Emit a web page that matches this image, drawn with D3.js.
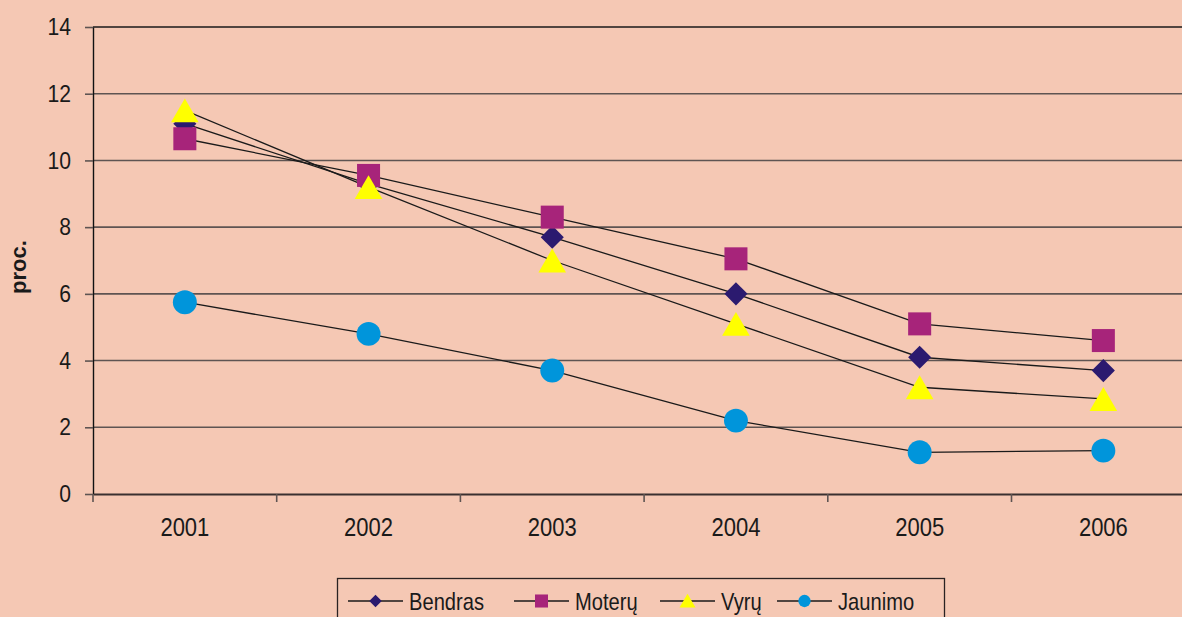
<!DOCTYPE html>
<html>
<head>
<meta charset="utf-8">
<script src="https://cdn.jsdelivr.net/npm/d3@7"></script>
<style>
  body { margin: 0; background: #f5c8b4; }
  svg { display: block; }
</style>
</head>
<body>
<div id="vis"></div>
<script>
// data
var years = ["2001", "2002", "2003", "2004", "2005", "2006"];
var bendras = [11.1, 9.3, 7.7, 6.0, 4.1, 3.7];
var moteru = [10.65, 9.55, 8.3, 7.05, 5.1, 4.6];
var vyru = [11.5, 9.2, 7.0, 5.1, 3.2, 2.85];
var jaunimo = [5.75, 4.8, 3.7, 2.2, 1.25, 1.3];
var yTicks = [0, 2, 4, 6, 8, 10, 12, 14];

var seriesNames = ["Bendras", "Moterų", "Vyrų", "Jaunimo"];
var seriesValues = [bendras, moteru, vyru, jaunimo];
var seriesColors = ["#2b1a6f", "#a7247a", "#ffff00", "#0095db"];
var seriesSymbols = [d3.symbolDiamond2, d3.symbolSquare, d3.symbolTriangle, d3.symbolCircle];
var symbolSizes = [340, 530, 330, 450];
var legendSizes = [100, 170, 110, 120];

var width = 1182;
var height = 617;

var margin = { top: 27, left: 93, bottom: 494 };
var bandW = 183.7;

var svg = d3.select("#vis")
    .append("svg")
    .attr("width", width)
    .attr("height", height);

svg.append("rect")
    .attr("width", width)
    .attr("height", height)
    .attr("fill", "#f5c8b4");

var xscale = d3.scaleBand()
    .domain(years)
    .range([margin.left, margin.left + bandW * years.length]);

var yscale = d3.scaleLinear()
    .domain([0, 14])
    .range([margin.bottom, margin.top]);

var plotRight = margin.left + bandW * years.length;

// gridlines
svg.append("g")
    .selectAll("line")
    .data(yTicks.filter(function(d) { return d > 0; }))
    .enter()
    .append("line")
    .attr("x1", margin.left)
    .attr("x2", plotRight)
    .attr("y1", function(d) { return yscale(d); })
    .attr("y2", function(d) { return yscale(d); })
    .attr("stroke", function(d) { return d === 14 ? "#1a1a1a" : "#5e5452"; })
    .attr("stroke-width", 1.6);

// y axis
var yaxis = d3.axisLeft(yscale)
    .tickValues(yTicks)
    .tickSize(8)
    .tickPadding(0)
    .tickSizeOuter(0);

var gy = svg.append("g")
    .attr("transform", "translate(" + margin.left + ",0)")
    .call(yaxis);
gy.select(".domain").attr("stroke", "#111").attr("stroke-width", 1.4);
gy.selectAll(".tick line").attr("stroke", "#5e5452").attr("stroke-width", 1.6);
gy.selectAll("text")
    .attr("x", -22 / 0.88)
    .attr("transform", "scale(0.88,1)")
    .style("font-family", '"Liberation Sans", Arial, sans-serif')
    .style("font-size", "24px")
    .attr("fill", "#1a1a1a");

// x axis
var xaxis = d3.axisBottom(xscale)
    .tickSize(0)
    .tickPadding(24);

var gx = svg.append("g")
    .attr("transform", "translate(0," + margin.bottom + ")")
    .call(xaxis);
gx.select(".domain").attr("stroke", "#3a3030").attr("stroke-width", 1.8);
gx.selectAll("text")
    .attr("transform", "scale(0.88,1)")
    .style("font-family", '"Liberation Sans", Arial, sans-serif')
    .style("font-size", "25px")
    .attr("fill", "#1a1a1a");

// tick marks between categories
svg.append("g")
    .selectAll("line")
    .data(d3.range(years.length + 1))
    .enter()
    .append("line")
    .attr("x1", function(i) { return margin.left + i * bandW; })
    .attr("x2", function(i) { return margin.left + i * bandW; })
    .attr("y1", margin.bottom)
    .attr("y2", margin.bottom + 8)
    .attr("stroke", "#5e5452")
    .attr("stroke-width", 1.6);

// y axis title
svg.append("text")
    .attr("transform", "translate(26,267) rotate(-90)")
    .style("text-anchor", "middle")
    .style("font-family", '"Liberation Sans", Arial, sans-serif')
    .style("font-weight", "bold")
    .style("font-size", "22px")
    .attr("fill", "#1a1a1a")
    .text("proc.");

function cx(i) { return xscale(years[i]) + xscale.bandwidth() / 2; }

var line = d3.line()
    .x(function(d, i) { return cx(i); })
    .y(function(d) { return yscale(d); });

// lines first, markers on top
seriesValues.forEach(function(vals) {
    svg.append("path")
        .datum(vals)
        .attr("d", line)
        .attr("fill", "none")
        .attr("stroke", "#1a1a1a")
        .attr("stroke-width", 1.3);
});

seriesValues.forEach(function(vals, s) {
    svg.append("g")
        .selectAll("path")
        .data(vals)
        .enter()
        .append("path")
        .attr("transform", function(d, i) {
            var dy = s === 2 ? 4 : 0;
            return "translate(" + cx(i) + "," + (yscale(d) + dy) + ")";
        })
        .attr("d", d3.symbol().type(seriesSymbols[s]).size(symbolSizes[s]))
        .attr("fill", seriesColors[s]);
});

// legend
var legend = svg.append("g");
legend.append("rect")
    .attr("x", 337.5)
    .attr("y", 578.5)
    .attr("width", 607)
    .attr("height", 60)
    .attr("fill", "none")
    .attr("stroke", "#2a2222")
    .attr("stroke-width", 1.3);

var legendX = [348, 514, 660, 777];
seriesNames.forEach(function(name, s) {
    var g = legend.append("g")
        .attr("transform", "translate(" + legendX[s] + ",601)");
    g.append("line")
        .attr("x1", 0)
        .attr("x2", 55)
        .attr("stroke", "#1a1a1a")
        .attr("stroke-width", 1.3);
    g.append("path")
        .attr("transform", "translate(27.5," + (s === 2 ? 2 : 0) + ")")
        .attr("d", d3.symbol().type(seriesSymbols[s]).size(legendSizes[s]))
        .attr("fill", seriesColors[s]);
    g.append("text")
        .attr("transform", "translate(61,9) scale(0.84,1)")
        .style("font-family", '"Liberation Sans", Arial, sans-serif')
        .style("font-size", "24px")
        .attr("fill", "#1a1a1a")
        .text(name);
});
</script>
</body>
</html>
